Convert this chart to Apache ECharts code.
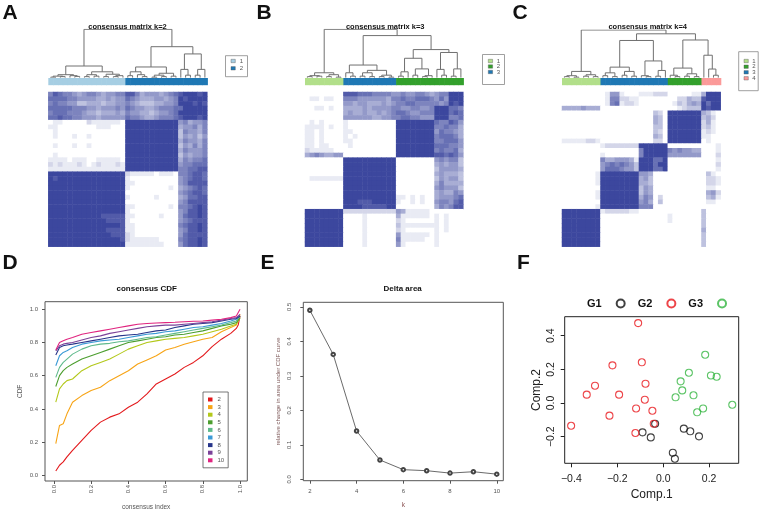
<!DOCTYPE html>
<html><head><meta charset="utf-8">
<script src="https://cdn.jsdelivr.net/npm/echarts@6/dist/echarts.min.js"></script>
<style>html,body{margin:0;padding:0;background:#fff}#c{width:763px;height:514px}</style>
</head><body><div id="c"></div>
<script>
// ---------- DATA ----------
// consensus matrices, displayed rows top->bottom, digit 0..9 = consensus 0..1
const heatA = [
"6876654566545566 88645554567 899989",
"7777665555445455 76544455456 989999",
"6766553344434455 65433344556 999898",
"7777766655455565 76554456667 799999",
"6777666544344454 65544345567 999999",
"7787766555455555 76654456667 899989",
"0110000021111110 99999999999 564556",
"1100000000111000 99999999999 455646",
"0100000000000000 99999999999 365546",
"0100010010000000 99999999999 354535",
"0000000000000000 99999999999 465546",
"0100010010000000 99999999999 354646",
"0000000000000000 99999999999 465556",
"0100000000000000 99999999999 354556",
"1111011100111110 99999999999 465667",
"2121112101211121 99999999999 566777",
"1111111111111111 99999999999 667788",
"9999999999999999 21111101110 667887",
"9899999999999999 10000000000 567887",
"9999999999999999 11000000000 568888",
"9999999999999999 10000000010 456787",
"9999999999999999 00000000000 567887",
"9999999999999999 10000010000 457788",
"9999999999999999 00000000000 568888",
"9999999999999999 11000000010 667898",
"9999999999999999 10000000000 568898",
"9999999999988888 11000001000 578898",
"9999999999998888 10000000000 567888",
"9999999999999998 11000000000 678898",
"9999999999998888 11000000000 568898",
"9999999999999888 21000000000 578888",
"9999999999999998 21111110000 678898",
"9999999999999999 11111111000 578898"
];
const heatB = [
"00000000 88877766665 56556654 566999",
"01101100 66655555546 67667776 575999",
"00000000 55455444545 66776666 656989",
"00110100 44445455556 65566556 999776",
"00000000 45445445456 77655666 999787",
"00000000 55555544556 67766555 999667",
"01010000 10000000000 99999999 766875",
"11110100 10000000000 99999999 667664",
"11010000 11000000000 99999999 576654",
"11010000 10100000000 99999999 677764",
"11010000 11000000000 99999999 667775",
"11011000 01000000000 99999999 777665",
"21111100 00000000000 99999999 676674",
"45654455 00000000000 99999999 887875",
"00000000 99999999999 00000000 565663",
"00000000 99999999999 00000000 454553",
"00000000 99999999999 00000000 355554",
"00000000 99999999999 00000000 454443",
"01111111 99999999999 00000000 354553",
"00000000 99999999999 00000000 464444",
"00000000 99999999999 00000000 565553",
"00000000 99999999999 00000000 454465",
"00000000 99999999999 11010100 455567",
"00000000 99988899999 10010100 566578",
"00000000 99998888899 00000000 465688",
"99999999 22222222222 54111110 000000",
"99999999 00001000000 41111110 101000",
"99999999 00001000000 21000000 101000",
"99999999 00001000000 31111111 101000",
"99999999 00001000000 21000000 101000",
"99999999 00001000000 51111110 100000",
"99999999 00001000000 61111100 100000",
"99999999 00001000000 51000000 100000"
];
const heatC = [
"00000000 01551000 111222 0000011 4999",
"00000000 01662211 000000 0022433 8999",
"00000000 01671221 000000 0132454 9799",
"44445444 00000000 000000 0012333 9899",
"00000000 00000000 000320 9999999 4310",
"00000000 00000000 000430 9999999 3420",
"00000000 00000000 000430 9999999 2410",
"00000000 00000000 000330 9999999 2310",
"00000000 00000000 000320 9999999 1210",
"00000000 00000000 000430 9999999 1100",
"11111221 00000000 000220 9999999 0100",
"00000000 12222222 999999 0000000 0001",
"00000000 00000000 699999 6565544 0001",
"00000000 10000000 699999 5555555 0002",
"00000000 64455541 999779 0000000 0001",
"00000000 56767653 999799 0000000 0002",
"00000000 57776553 999779 0000000 0001",
"00000001 99999999 554000 0000000 0310",
"00000001 99999999 453000 0000000 0221",
"00000001 99999999 443000 0000000 0221",
"00000000 99999999 354000 0000000 0110",
"00000001 99999999 354000 0000000 0452",
"00000001 99999999 465020 0000000 0341",
"00000000 99999999 564030 0000000 0110",
"00000001 99999999 666000 0000000 0000",
"99999999 12222211 000000 0000000 3000",
"99999999 00000000 000000 1000000 3000",
"99999999 00000000 000000 1000000 3000",
"99999999 00000000 000000 0000000 3000",
"99999999 00000000 000000 0000000 4000",
"99999999 00000000 000000 0000000 3000",
"99999999 00000000 000000 0000000 3000",
"99999999 00000000 000000 0000000 3000"
];
// dendrograms: [height, left, right]; 0 = leaf
const treeA = [1.0,
  [0.24, [0.06,[0.03,[0.01,0,0],[0.02,0,0]],[0.04,0,[0.025,0,0]]],
         [0.12,[0.06,[0.02,0,0],[0.03,0,0]],[0.07,[0.02,0,0],[0.04,[0.02,0,0],0]]]],
  [0.64, [0.22,[0.12,[0.04,0,0],[0.06,0,[0.02,0,0]]],[0.09,[0.05,[0.01,0,0],[0.02,0,0]],[0.03,0,0]]],
         [0.49,[0.17,0,[0.05,0,0]],[0.17,[0.05,0,0],0]]]];
const treeB = [1.0,
  [0.1,[0.04,[0.02,0,0],[0.03,0,0]],[0.06,[0.02,0,0],[0.01,0,0]]],
  [0.87,
    [0.26,[0.1,0,[0.03,0,0]],[0.15,[0.1,[0.03,0,0],[0.02,0,0]],[0.05,[0.02,0,0],[0.01,0,0]]]],
    [0.58,[0.4,[0.12,[0.03,0,0],0],[0.18,[0.05,0,0],[0.04,[0.02,0,0],0]]],
          [0.52,[0.17,0,[0.05,0,0]],[0.18,[0.03,0,0],0]]]]];
const treeC = [1.0,
  [0.13,[0.04,[0.02,0,0],[0.01,0,0]],[0.06,[0.03,0,0],[0.02,0,0]]],
  [0.92,
    [0.78,[0.22,[0.1,[0.04,0,0],[0.02,0,0]],[0.13,[0.05,0,0],[0.03,0,0]]],
          [0.35,[0.04,0,[0.02,0,0]],[0.15,[0.03,0,0],0]]],
    [0.79,[0.2,[0.05,0,[0.02,0,0]],[0.08,[0.03,0,0],[0.02,0,0]]],
          [0.47,0,[0.18,0,[0.05,0,0]]]]]];
// cluster colour bars: [clusterId, number of samples]
const barA = [[1,16],[2,17]];
const barB = [[1,8],[3,11],[2,14]];
const barC = [[1,8],[3,14],[2,7],[4,4]];
const colA = {1:'#a6cee3',2:'#1f78b4'};
const colBC = {1:'#b2df8a',2:'#33a02c',3:'#1f78b4',4:'#fb9a99'};

// consensus CDF
const cdfX = [0.01,0.02,0.03,0.05,0.07,0.1,0.15,0.2,0.25,0.3,0.35,0.4,0.45,0.5,0.55,0.6,0.65,0.7,0.75,0.8,0.85,0.9,0.95,0.98,0.99,1.0];
const cdf2 = [0.025,0.03,0.06,0.08,0.11,0.15,0.21,0.27,0.32,0.35,0.37,0.41,0.44,0.49,0.55,0.58,0.61,0.65,0.68,0.72,0.775,0.82,0.855,0.885,0.905,0.96];
const cdf3 = [0.19,0.2,0.3,0.31,0.37,0.44,0.48,0.51,0.53,0.57,0.60,0.63,0.67,0.695,0.72,0.755,0.77,0.79,0.805,0.82,0.83,0.865,0.89,0.905,0.91,0.97];
const cdf4 = [0.44,0.45,0.52,0.55,0.57,0.58,0.63,0.66,0.68,0.70,0.73,0.76,0.78,0.80,0.81,0.82,0.825,0.83,0.84,0.85,0.865,0.88,0.90,0.91,0.92,0.95];
const cdf5 = [0.535,0.54,0.60,0.63,0.65,0.67,0.70,0.72,0.74,0.76,0.78,0.80,0.81,0.82,0.83,0.835,0.845,0.85,0.86,0.87,0.885,0.90,0.91,0.92,0.93,0.95];
const cdf6 = [0.59,0.60,0.65,0.68,0.70,0.73,0.76,0.78,0.79,0.795,0.805,0.81,0.82,0.83,0.835,0.845,0.855,0.865,0.875,0.885,0.895,0.905,0.92,0.93,0.94,0.96];
const cdf7 = [0.66,0.67,0.72,0.74,0.75,0.77,0.79,0.80,0.81,0.815,0.82,0.83,0.84,0.85,0.855,0.865,0.87,0.88,0.89,0.895,0.905,0.915,0.93,0.94,0.945,0.96];
const cdf8 = [0.725,0.73,0.77,0.78,0.785,0.79,0.80,0.81,0.82,0.83,0.84,0.845,0.85,0.86,0.87,0.875,0.89,0.90,0.91,0.915,0.92,0.93,0.94,0.945,0.95,0.96];
const cdf9 = [0.75,0.755,0.78,0.79,0.795,0.80,0.815,0.83,0.84,0.855,0.865,0.875,0.885,0.895,0.90,0.905,0.905,0.91,0.915,0.92,0.925,0.935,0.945,0.95,0.955,0.97];
const cdf10 = [0.755,0.76,0.80,0.81,0.82,0.83,0.85,0.86,0.87,0.88,0.89,0.90,0.91,0.915,0.918,0.92,0.922,0.925,0.928,0.93,0.935,0.94,0.95,0.96,0.97,1.0];
const cdfNames = ['2','3','4','5','6','7','8','9','10'];
const cdfColors = ['#e3191c','#f7a416','#b3c81a','#4c9e2f','#5fba8c','#3b9ad6','#27358a','#7b4299','#e0247f'];

// delta area
const kVals = [2,3,4,5,6,7,8,9,10];
const deltaArea = [0.49,0.362,0.14,0.056,0.028,0.025,0.018,0.022,0.015];

// PCA scatter
const g1 = [[-0.035,-0.123],[-0.090,-0.174],[-0.054,-0.204],[0.042,-0.295],[0.051,-0.331],[0.090,-0.152],[0.118,-0.168],[0.156,-0.198]];
const g2 = [[-0.109,0.475],[-0.221,0.224],[-0.093,0.242],[-0.297,0.103],[-0.333,0.050],[-0.192,0.050],[-0.077,0.115],[-0.080,0.020],[-0.118,-0.032],[-0.047,-0.046],[-0.234,-0.075],[-0.401,-0.135],[-0.041,-0.123],[-0.121,-0.178]];
const g3 = [[0.183,0.287],[0.112,0.180],[0.208,0.164],[0.233,0.156],[0.076,0.129],[0.083,0.075],[0.054,0.034],[0.132,0.046],[0.174,-0.032],[0.148,-0.055],[0.301,-0.010]];

// ---------- BUILD ----------
const FONT = '"Liberation Sans", Arial, Helvetica, sans-serif';
const N = 33;
const idx = Array.from({length:N},(_,i)=>i);

function heatData(rows){
  const d=[]; rows.forEach((s,r)=>{ s=s.replace(/ /g,''); for(let c=0;c<s.length;c++) d.push([c, rows.length-1-r, +s[c]]); }); return d;
}
function treeSegs(tree){
  let leaf=0; const segs=[];
  (function walk(n){
    if(n===0){ const x=leaf+0.5; leaf++; return {x:x,h:0}; }
    const A=walk(n[1]), B=walk(n[2]);
    segs.push({coords:[[A.x,A.h],[A.x,n[0]],[B.x,n[0]],[B.x,B.h]]});
    return {x:(A.x+B.x)/2,h:n[0]};
  })(tree);
  return segs;
}
function barData(bar){
  const d=[]; let i=0; bar.forEach(([id,n])=>{ for(let k=0;k<n;k++) d.push([i++,0,id]); }); return d;
}

const panels = [
  {left:48.3, width:159, dTop:29.3, tree:treeA, bar:barA, col:colA, heat:heatA},
  {left:305, width:158.3, dTop:29.3, tree:treeB, bar:barB, col:colBC, heat:heatB},
  {left:562, width:158.7, dTop:30, tree:treeC, bar:barC, col:colBC, heat:heatC}
];
const grids=[], xAxes=[], yAxes=[], series=[];
panels.forEach((p,pi)=>{
  const g0 = grids.length;
  grids.push({left:p.left, top:p.dTop, width:p.width, height:77.6-p.dTop});
  grids.push({left:p.left, top:78, width:p.width, height:7.2});
  grids.push({left:p.left, top:92, width:p.width, height:154.7});
  xAxes.push({type:'value', gridIndex:g0, min:0, max:N, show:false});
  yAxes.push({type:'value', gridIndex:g0, min:0, max:1, show:false});
  xAxes.push({type:'category', gridIndex:g0+1, data:idx, show:false});
  yAxes.push({type:'category', gridIndex:g0+1, data:['c'], show:false});
  xAxes.push({type:'category', gridIndex:g0+2, data:idx, show:false});
  yAxes.push({type:'category', gridIndex:g0+2, data:idx, show:false});
  series.push({type:'heatmap', xAxisIndex:g0+2, yAxisIndex:g0+2, data:heatData(p.heat), silent:true});
});
panels.forEach((p,pi)=>{
  const g0=pi*3;
  series.push({type:'lines', coordinateSystem:'cartesian2d', xAxisIndex:g0, yAxisIndex:g0, polyline:true, silent:true,
    data:treeSegs(p.tree), lineStyle:{color:'#707070', width:1, opacity:1}});
});
panels.forEach((p,pi)=>{
  const g0=pi*3, cmap=p.col;
  series.push({type:'custom', xAxisIndex:g0+1, yAxisIndex:g0+1, data:barData(p.bar), silent:true,
    renderItem:function(params,api){
      const c=api.coord([api.value(0),0]); const s=api.size([1,1]);
      return {type:'rect', shape:{x:c[0]-s[0]/2, y:c[1]-s[1]/2, width:s[0]+0.6, height:s[1]}, style:{fill:cmap[api.value(2)]}};
    }});
});

const axTxt = {fontFamily:FONT, color:'#555', fontSize:6};
const noLine = {show:false, onZero:false};
// D grid (9)
grids.push({left:45, top:301.7, width:202.3, height:179.3, show:true, borderColor:'#555', borderWidth:1});
const dTicks=[0,0.2,0.4,0.6,0.8,1.0];
xAxes.push({type:'value', gridIndex:9, min:-0.048, max:1.039, axisLine:noLine, splitLine:{show:false},
  axisTick:{show:true, customValues:dTicks, length:3, lineStyle:{color:'#555'}},
  axisLabel:Object.assign({customValues:dTicks, rotate:90, margin:4, formatter:v=>v.toFixed(1)},axTxt),
  name:'consensus index', nameLocation:'middle', nameGap:23, nameTextStyle:{fontFamily:FONT,fontSize:6.5,color:'#555'}});
yAxes.push({type:'value', gridIndex:9, min:-0.035, max:1.046, axisLine:noLine, splitLine:{show:false},
  axisTick:{show:true, customValues:dTicks, length:3, lineStyle:{color:'#555'}},
  axisLabel:Object.assign({customValues:dTicks, margin:7, formatter:v=>v.toFixed(1)},axTxt),
  name:'CDF', nameLocation:'middle', nameGap:21, nameTextStyle:{fontFamily:FONT,fontSize:6.5,color:'#555'}});
// E grid (10)
grids.push({left:303.3, top:302.3, width:200, height:178.4, show:true, borderColor:'#555', borderWidth:1});
const eX=[2,4,6,8,10], eY=[0,0.1,0.2,0.3,0.4,0.5];
xAxes.push({type:'value', gridIndex:10, min:1.72, max:10.28, axisLine:noLine, splitLine:{show:false},
  axisTick:{show:true, customValues:eX, length:3, lineStyle:{color:'#555'}},
  axisLabel:Object.assign({customValues:eX, margin:8},axTxt),
  name:'k', nameLocation:'middle', nameGap:21, nameTextStyle:{fontFamily:FONT,fontSize:6.5,color:'#8a5050'}});
yAxes.push({type:'value', gridIndex:10, min:-0.004, max:0.513, axisLine:noLine, splitLine:{show:false},
  axisTick:{show:true, customValues:eY, length:3, lineStyle:{color:'#555'}},
  axisLabel:Object.assign({customValues:eY, rotate:90, margin:11, formatter:v=>v.toFixed(1)},axTxt),
  name:'relative change in area under CDF curve', nameLocation:'middle', nameGap:22,
  nameTextStyle:{fontFamily:FONT,fontSize:6,color:'#7d5858'}});
// F grid (11)
grids.push({left:564.7, top:316.7, width:174, height:146.6, show:true, borderColor:'#222', borderWidth:1});
const fX=[-0.4,-0.2,0,0.2], fY=[-0.2,0,0.2,0.4];
const fmtF = v => (v<-1e-9?'\u2212':'')+Math.abs(v).toFixed(1);
xAxes.push({type:'value', gridIndex:11, min:-0.429, max:0.329, axisLine:noLine, splitLine:{show:false},
  axisTick:{show:true, customValues:fX, length:4, lineStyle:{color:'#222'}},
  axisLabel:{customValues:fX, margin:10, formatter:fmtF, fontFamily:FONT, fontSize:10.5, color:'#222'},
  name:'Comp.1', nameLocation:'middle', nameGap:25, nameTextStyle:{fontFamily:FONT,fontSize:12,color:'#222'}});
yAxes.push({type:'value', gridIndex:11, min:-0.358, max:0.513, axisLine:noLine, splitLine:{show:false},
  axisTick:{show:true, customValues:fY, length:4, lineStyle:{color:'#222'}},
  axisLabel:{customValues:fY, rotate:90, margin:8, formatter:fmtF, fontFamily:FONT, fontSize:10.5, color:'#222'},
  name:'Comp.2', nameLocation:'middle', nameGap:22, nameTextStyle:{fontFamily:FONT,fontSize:12,color:'#222'}});

const cdfs=[cdf2,cdf3,cdf4,cdf5,cdf6,cdf7,cdf8,cdf9,cdf10];
cdfs.forEach((arr,i)=>{
  series.push({type:'line', name:cdfNames[i], xAxisIndex:9, yAxisIndex:9, showSymbol:false, silent:true,
    data:cdfX.map((x,j)=>[x,arr[j]]), color:cdfColors[i], lineStyle:{width:1.1, color:cdfColors[i]}});
});
series.push({type:'line', xAxisIndex:10, yAxisIndex:10, data:kVals.map((k,i)=>[k,deltaArea[i]]),
  symbol:'emptyCircle', symbolSize:3.5, showSymbol:true, silent:true,
  lineStyle:{width:0.8,color:'#444'}, itemStyle:{color:'#444', borderWidth:0.6}});
[['G1',g1,'#111111'],['G2',g2,'#e8161b'],['G3',g3,'#33b540']].forEach(([n,d,c])=>{
  series.push({type:'scatter', name:n, xAxisIndex:11, yAxisIndex:11, data:d, symbol:'circle', symbolSize:7, silent:true,
    itemStyle:{color:'rgba(255,255,255,0)', borderColor:c, borderWidth:1.1}});
});

// legend boxes for A-C (cluster colour keys)
function keyBox(x,y,w,h,rows,cmap,sqx,txx){
  const els=[{type:'rect', shape:{x:x,y:y,width:w,height:h}, style:{fill:'#fff', stroke:'#888', lineWidth:0.8}}];
  rows.forEach((ry,i)=>{
    els.push({type:'rect', shape:{x:sqx,y:ry-1.7,width:4.3,height:3.4}, style:{fill:cmap[i+1], stroke:'#555', lineWidth:0.4}});
    els.push({type:'text', x:txx, y:ry, style:{text:String(i+1), fontFamily:FONT, fontSize:6, fill:'#555', align:'center', verticalAlign:'middle'}});
  });
  return els;
}
const graphics = [].concat(
  keyBox(225.5,55.7,22,21,[61,68.3],colA,231,241.5),
  keyBox(482.5,54.5,22,30,[61,66.5,72],colBC,488.3,498.5),
  keyBox(738.7,51.7,19.5,39,[61,66.7,72.3,78.3],colBC,744,754)
);

const titleStyle = (s,w)=>({fontFamily:FONT, fontSize:s, fontWeight:w||'bold', color:'#111'});
const titles = [
  {text:'A', left:2.5, top:3, padding:0, textStyle:titleStyle(21)},
  {text:'B', left:256.5, top:3, padding:0, textStyle:titleStyle(21)},
  {text:'C', left:512.5, top:3, padding:0, textStyle:titleStyle(21)},
  {text:'D', left:2.5, top:253, padding:0, textStyle:titleStyle(21)},
  {text:'E', left:260.5, top:253, padding:0, textStyle:titleStyle(21)},
  {text:'F', left:517, top:253, padding:0, textStyle:titleStyle(21)},
  {text:'consensus matrix k=2', left:127.5, top:23, textAlign:'center', padding:0, textStyle:titleStyle(7.5)},
  {text:'consensus matrix k=3', left:385.2, top:23, textAlign:'center', padding:0, textStyle:titleStyle(7.5)},
  {text:'consensus matrix k=4', left:647.7, top:23, textAlign:'center', padding:0, textStyle:titleStyle(7.5)},
  {text:'consensus CDF', left:146.7, top:284.5, textAlign:'center', padding:0, textStyle:titleStyle(8)},
  {text:'Delta area', left:402.7, top:284.5, textAlign:'center', padding:0, textStyle:titleStyle(8)}
];

const chart = echarts.init(document.getElementById('c'), null, {renderer:'canvas'});
chart.setOption({
  animation:false,
  backgroundColor:'#ffffff',
  title:titles,
  grid:grids, xAxis:xAxes, yAxis:yAxes,
  visualMap:{type:'continuous', min:0, max:9, show:false, seriesIndex:[0,1,2], dimension:2,
    inRange:{color:['#ffffff','#3c479e']}},
  legend:[
    {data:cdfNames, orient:'vertical', left:203, top:392, icon:'rect', itemWidth:4.5, itemHeight:4, itemGap:1.6,
     selectedMode:false, borderColor:'#555', borderWidth:0.8, padding:[4.5,4,4.5,5],
     textStyle:{fontFamily:FONT, fontSize:6, lineHeight:6, color:'#555'}},
    {data:['G1','G2','G3'], orient:'horizontal', left:587, top:298, align:'right', icon:'circle',
     itemWidth:8, itemHeight:8, itemGap:12, selectedMode:false, padding:0,
     textStyle:{fontFamily:FONT, fontSize:11, fontWeight:'bold', color:'#111', padding:[0,10,0,0]}}
  ],
  graphic:graphics,
  series:series
});
</script>
</body></html>
